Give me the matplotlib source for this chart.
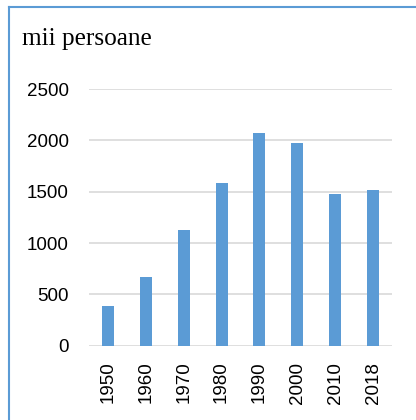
import matplotlib
matplotlib.use("Agg")
import matplotlib.pyplot as plt
from matplotlib.lines import Line2D

years = ["1950", "1960", "1970", "1980", "1990", "2000", "2010", "2018"]
values = [387, 672, 1130, 1586, 2076, 1975, 1478, 1520]
y_ticks = [0, 500, 1000, 1500, 2000, 2500]
title = "mii persoane"

fig = plt.figure(figsize=(4.16, 4.20), dpi=100)
ax = fig.add_axes([89/416, 74.3/420, 303/416, (345.7-89)/420])

x = list(range(len(years)))
ax.bar(x, values, width=0.317, color="#5b9bd5", zorder=3)
ax.set_xlim(-0.5, len(years) - 0.5)
ax.set_ylim(0, 2500)
ax.set_yticks(y_ticks)
ax.set_yticklabels([str(v) for v in y_ticks], fontfamily="Liberation Sans", fontsize=13.5)
ax.set_xticks(x)
ax.set_xticklabels(years, rotation=90, fontfamily="Liberation Sans", fontsize=13.5)
ax.tick_params(axis="y", length=0, pad=14.4)
ax.tick_params(axis="x", length=0, pad=11.5)
ax.yaxis.grid(True, color="#d9d9d9", linewidth=1.2, zorder=0)
ax.set_axisbelow(True)
for s in ax.spines.values():
    s.set_visible(False)

fig.text(22/416, 1 - 45/420, title, fontfamily="Liberation Serif", fontsize=18.2,
         ha="left", va="baseline", color="black")

# frame lines (left and top)
fig.add_artist(Line2D([8.5/416, 8.5/416], [0, 1 - 6.5/420], color="#5b9bd5", linewidth=1.5,
                      transform=fig.transFigure))
fig.add_artist(Line2D([8.5/416, 1], [1 - 6.5/420, 1 - 6.5/420], color="#5b9bd5", linewidth=1.5,
                      transform=fig.transFigure))

fig.savefig("out.png", dpi=100)
